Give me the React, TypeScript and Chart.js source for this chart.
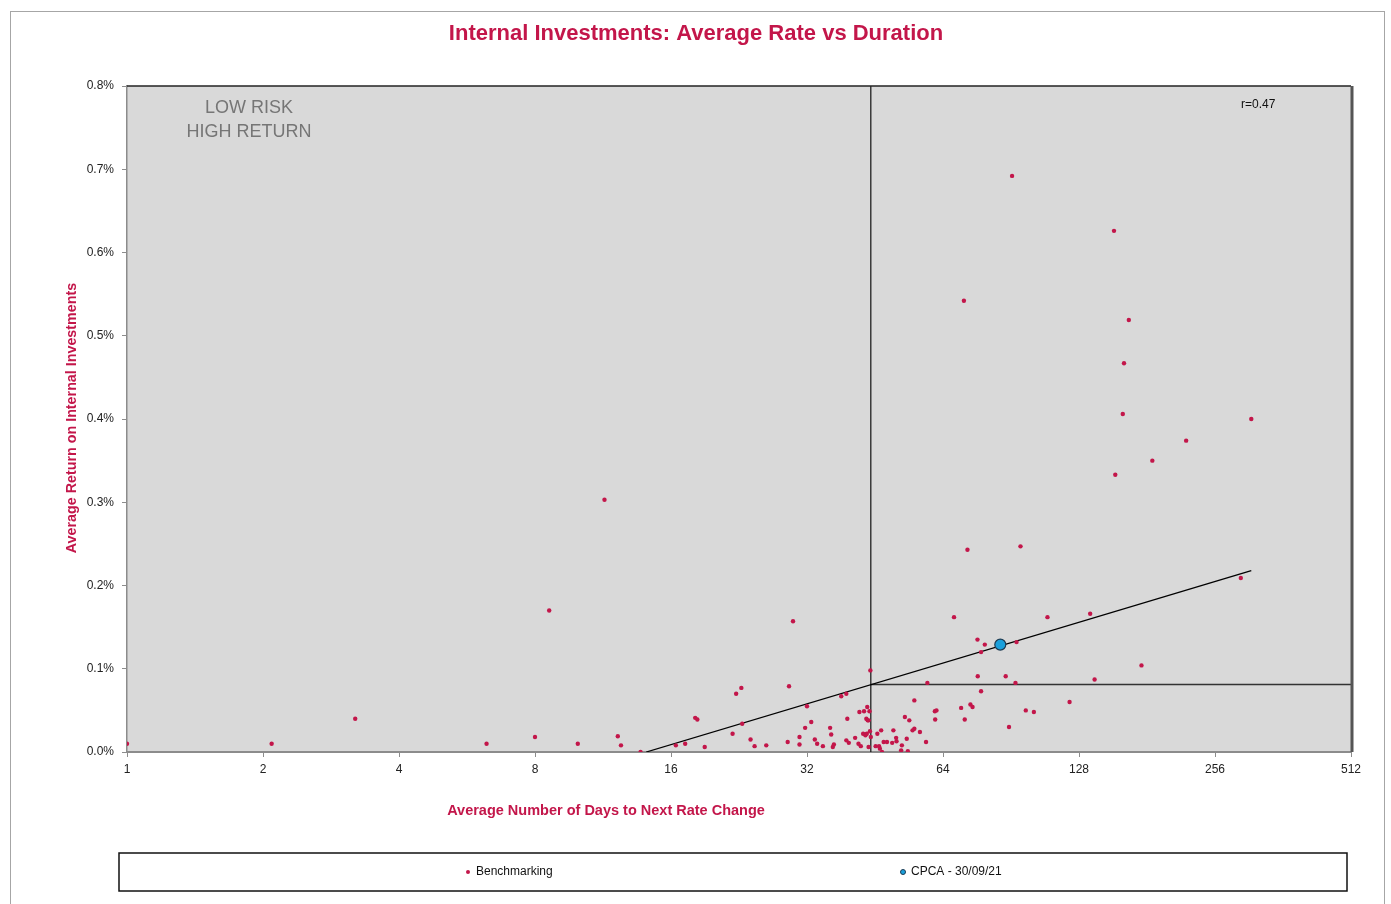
import React, { useEffect, useRef } from 'react';
import { Chart, registerables } from 'chart.js';

Chart.register(...registerables);

// Benchmarking authorities: average days to next rate change (x) and average return % (y)
const benchDays = [
  1, 2.09, 3.2, 6.25, 8.0, 8.6, 9.95, 11.4, 12.2, 12.4, 13.7,
  16.4, 17.2, 19.0, 18.1, 18.3, 21.9, 23.0, 22.3, 22.9, 24.0, 24.5, 26.0, 29.0, 29.2, 29.8,
  30.8, 30.8, 31.7, 32.0, 32.7, 33.3, 33.7, 34.7, 36.0, 36.2, 36.5, 36.7, 38.1, 39.1, 39.1,
  39.3, 39.6, 40.9, 41.6, 42.1, 41.8, 42.8, 43.5, 42.6, 43.3, 43.6, 44.0, 43.8, 43.1, 43.4,
  43.8, 44.1, 44.3, 44.2, 45.4, 46.2, 45.8, 46.7, 46.4, 46.9, 47.3, 48.1, 49.4, 49.7, 50.4,
  50.5, 52.7, 53.9, 51.9, 51.7, 53.2, 53.5, 54.8, 55.3, 55.3, 56.9, 58.7, 59.1, 61.4, 61.9,
  61.5, 70.2, 71.5, 73.6, 74.4, 76.4, 77.7, 76.3, 79.2, 77.7,
  67.7, 109, 135.5, 93.1, 88.1, 92.6, 138.6, 176, 122, 97.6, 101.7, 89.6,
  91, 153, 71.2, 165, 161, 160, 308, 221, 186, 154, 95, 72.5, 292,
];
const benchRate = [
  0.01, 0.01, 0.04, 0.01, 0.018, 0.17, 0.01, 0.303, 0.019, 0.008, 0.0,
  0.008, 0.01, 0.006, 0.041, 0.039, 0.022, 0.034, 0.07, 0.077, 0.015, 0.007, 0.008, 0.012, 0.079, 0.157,
  0.018, 0.009, 0.029, 0.055, 0.036, 0.015, 0.01, 0.007, 0.029, 0.021, 0.006, 0.009, 0.067, 0.07, 0.014,
  0.04, 0.011, 0.017, 0.01, 0.007, 0.048, 0.049, 0.054, 0.022, 0.04, 0.038, 0.049, 0.038, 0.02, 0.022,
  0.006, 0.025, 0.018, 0.098, 0.007, 0.007, 0.022, 0.026, 0.004, 0.0, 0.012, 0.012, 0.011, 0.026, 0.017,
  0.013, 0.042, 0.038, 0.008, 0.002, 0.016, 0.001, 0.026, 0.028, 0.062, 0.024, 0.012, 0.083, 0.049, 0.05,
  0.039, 0.053, 0.039, 0.057, 0.054, 0.091, 0.073, 0.135, 0.129, 0.12,
  0.162, 0.162, 0.166, 0.132, 0.091, 0.083, 0.087, 0.104, 0.06, 0.05, 0.048, 0.03,
  0.692, 0.626, 0.542, 0.519, 0.467, 0.406, 0.4, 0.374, 0.35, 0.333, 0.247, 0.243, 0.209,
];
const cpcaDays = [85.7];
const cpcaRate = [0.129];

// Trend line end points and averages
const trendDays = [14.1, 308];
const trendRate = [0, 0.218];
const avgDays = 44.3;
const avgRate = 0.081;

const xTickValues = [1, 2, 4, 8, 16, 32, 64, 128, 256, 512];
const yMin = 0;
const yMax = 0.8;
const yStep = 0.1;

const titleText = 'Internal Investments: Average Rate vs Duration';
const xTitleText = 'Average Number of Days to Next Rate Change';
const yTitleText = 'Average Return on Internal Investments';
const quadrantText = ['LOW RISK', 'HIGH RETURN'];
const rText = 'r=0.47';
const legendLabels = ['Benchmarking', 'CPCA - 30/09/21'];

const RED = '#c3164a';
const BLUE = '#1aa0dc';
const FONT = '"Liberation Sans", Arial, sans-serif';

export default function App() {
  const ref = useRef<HTMLCanvasElement | null>(null);

  useEffect(() => {
    document.body.style.margin = '0';
    const canvas = ref.current;
    if (!canvas) return;

    const decor = {
      id: 'decor',
      beforeDraw(chart: any) {
        const { ctx, chartArea: a, width, height } = chart;
        ctx.save();
        ctx.fillStyle = '#ffffff';
        ctx.fillRect(0, 0, width, height);
        ctx.fillStyle = '#d9d9d9';
        ctx.fillRect(a.left, a.top, a.right - a.left, a.bottom - a.top);
        ctx.restore();
      },
      afterDraw(chart: any) {
        const { ctx, chartArea: a } = chart;
        ctx.save();
        // plot borders top and right
        ctx.strokeStyle = '#222222';
        ctx.lineWidth = 1.5;
        ctx.beginPath();
        ctx.moveTo(a.left, a.top);
        ctx.lineTo(a.right, a.top);
        ctx.stroke();
        ctx.strokeStyle = '#555555';
        ctx.lineWidth = 3;
        ctx.beginPath();
        ctx.moveTo(a.right + 1, a.top);
        ctx.lineTo(a.right + 1, a.bottom);
        ctx.stroke();

        // outer border
        ctx.strokeStyle = '#a6a6a6';
        ctx.lineWidth = 1;
        ctx.strokeRect(10.5, 11.5, 1374, 1000);

        // title
        ctx.fillStyle = RED;
        ctx.textAlign = 'center';
        ctx.textBaseline = 'middle';
        ctx.font = `bold 22px ${FONT}`;
        ctx.fillText(titleText, 696, 34);

        // x title
        ctx.font = `bold 14.5px ${FONT}`;
        ctx.fillText(xTitleText, 606, 811);

        // y title
        ctx.save();
        ctx.translate(72, 418);
        ctx.rotate(-Math.PI / 2);
        ctx.font = `bold 14.3px ${FONT}`;
        ctx.fillText(yTitleText, 0, 0);
        ctx.restore();

        // quadrant label
        ctx.fillStyle = '#767676';
        ctx.font = `18px ${FONT}`;
        ctx.fillText(quadrantText[0], 249, 108);
        ctx.fillText(quadrantText[1], 249, 132);

        // r value
        ctx.fillStyle = '#111111';
        ctx.font = `12px ${FONT}`;
        ctx.textAlign = 'left';
        ctx.fillText(rText, 1241, 105);

        // legend
        ctx.strokeStyle = '#111111';
        ctx.lineWidth = 1.5;
        ctx.strokeRect(119, 853, 1228, 38);
        ctx.fillStyle = RED;
        ctx.beginPath();
        ctx.arc(468, 872, 2, 0, Math.PI * 2);
        ctx.fill();
        ctx.fillStyle = BLUE;
        ctx.strokeStyle = '#1d3b52';
        ctx.lineWidth = 1;
        ctx.beginPath();
        ctx.arc(903, 872, 2.5, 0, Math.PI * 2);
        ctx.fill();
        ctx.stroke();
        ctx.fillStyle = '#111111';
        ctx.font = `12px ${FONT}`;
        ctx.textBaseline = 'middle';
        ctx.fillText(legendLabels[0], 476, 872);
        ctx.fillText(legendLabels[1], 911, 872);
        ctx.restore();
      },
    };

    const benchData = benchDays.map((d, i) => ({ x: d, y: benchRate[i] }));
    const cpcaData = cpcaDays.map((d, i) => ({ x: d, y: cpcaRate[i] }));
    const trendData = trendDays.map((d, i) => ({ x: d, y: trendRate[i] }));
    const vLine = [{ x: avgDays, y: yMin }, { x: avgDays, y: yMax }];
    const hLine = [{ x: avgDays, y: avgRate }, { x: xTickValues[xTickValues.length - 1], y: avgRate }];

    const chart = new Chart(canvas, {
      type: 'scatter',
      data: {
        datasets: [
          {
            label: legendLabels[1],
            data: cpcaData,
            pointRadius: 5.5,
            pointBackgroundColor: BLUE,
            pointBorderColor: '#1d3b52',
            pointBorderWidth: 1.2,
          },
          {
            label: legendLabels[0],
            data: benchData,
            pointRadius: 2.2,
            pointBackgroundColor: RED,
            pointBorderWidth: 0,
          },
          {
            label: 'trend',
            data: trendData,
            showLine: true,
            pointRadius: 0,
            borderColor: '#000000',
            borderWidth: 1.3,
          },
          {
            label: 'avgDays',
            data: vLine,
            showLine: true,
            pointRadius: 0,
            borderColor: '#111111',
            borderWidth: 1.2,
          },
          {
            label: 'avgRate',
            data: hLine,
            showLine: true,
            pointRadius: 0,
            borderColor: '#333333',
            borderWidth: 1.4,
          },
        ] as any,
      },
      options: {
        animation: false,
        responsive: false,
        maintainAspectRatio: false,
        layout: { padding: { left: 0, top: 86, right: 40, bottom: 112 } },
        plugins: {
          legend: { display: false },
          title: { display: false },
          tooltip: { enabled: false },
        },
        scales: {
          x: {
            type: 'logarithmic',
            min: 1,
            max: 512,
            afterFit: (s: any) => { s.height = 40; },
            afterBuildTicks: (s: any) => {
              s.ticks = xTickValues.map((v) => ({ value: v }));
            },
            ticks: {
              callback: (v: any) => String(v),
              color: '#222222',
              font: { family: FONT, size: 12 },
              padding: 5,
              maxRotation: 0,
              autoSkip: false,
            },
            grid: {
              drawOnChartArea: false,
              drawTicks: true,
              tickLength: 5,
              color: '#8c8c8c',
            },
            border: { color: '#8c8c8c', width: 2 },
          },
          y: {
            min: yMin,
            max: yMax,
            afterFit: (s: any) => { s.width = 127; },
            ticks: {
              stepSize: yStep,
              callback: (v: any) => Number(v).toFixed(1) + '%',
              color: '#222222',
              font: { family: FONT, size: 12 },
              padding: 8,
            },
            grid: {
              drawOnChartArea: false,
              drawTicks: true,
              tickLength: 5,
              color: '#8c8c8c',
            },
            border: { color: '#8c8c8c', width: 1.5 },
          },
        },
      },
      plugins: [decor],
    });

    return () => chart.destroy();
  }, []);

  return (
    <canvas
      ref={ref}
      width={1391}
      height={904}
      style={{ display: 'block', width: '1391px', height: '904px' }}
    />
  );
}
